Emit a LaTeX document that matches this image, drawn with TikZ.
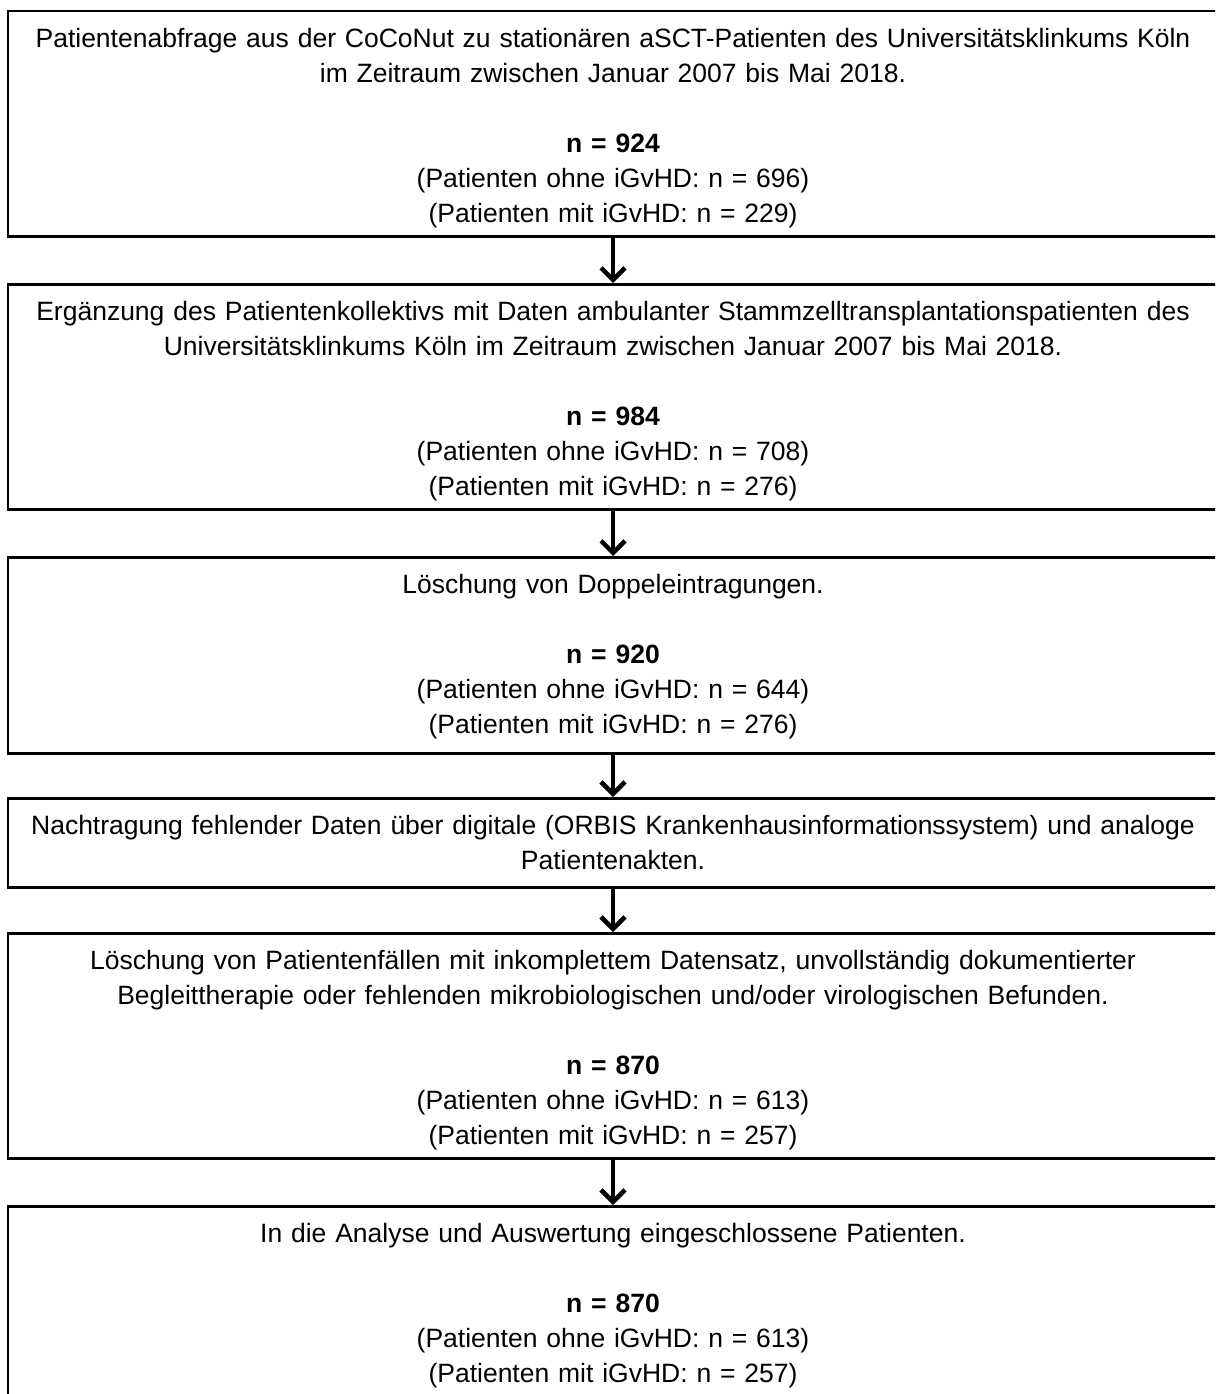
\documentclass[tikz,border=0pt]{standalone}
\usepackage{fontspec}
\setmainfont{Liberation Sans}
\usetikzlibrary{arrows.meta}
\begin{document}
\begin{tikzpicture}[x=1pt,y=-1pt,
  box/.style={draw=black, line width=2.5pt, anchor=north, text width=1210pt,
    inner xsep=0pt, inner ysep=0pt, align=center,
    font=\fontsize{26.5}{35}\selectfont},
  flow/.style={line width=4pt,
    -{Straight Barb[length=12pt,width=24pt,line width=4.5pt]}}]
\useasboundingbox (0,0) rectangle (1215,1394);
\clip (0,0) rectangle (1215,1394);
\newcommand\topgap{\rule{0pt}{36pt}}
\newcommand\botgap[1]{\rule[-#1pt]{0pt}{#1pt}}
\node[box] (b1) at (613,10) {\topgap Patientenabfrage aus der CoCoNut zu stationären aSCT-Patienten des Universitätsklinkums Köln\\
im Zeitraum zwischen Januar 2007 bis Mai 2018.\\
\mbox{}\\
\textbf{n = 924}\\
(Patienten ohne iGvHD: n = 696)\\
(Patienten mit iGvHD: n = 229)\botgap{14}};
\node[box] (b2) at (613,283) {\topgap Ergänzung des Patientenkollektivs mit Daten ambulanter Stammzelltransplantationspatienten des\\
Universitätsklinkums Köln im Zeitraum zwischen Januar 2007 bis Mai 2018.\\
\mbox{}\\
\textbf{n = 984}\\
(Patienten ohne iGvHD: n = 708)\\
(Patienten mit iGvHD: n = 276)\botgap{14}};
\node[box] (b3) at (613,556) {\topgap Löschung von Doppeleintragungen.\\
\mbox{}\\
\textbf{n = 920}\\
(Patienten ohne iGvHD: n = 644)\\
(Patienten mit iGvHD: n = 276)\botgap{20}};
\node[box] (b4) at (613,797) {\topgap Nachtragung fehlender Daten über digitale (ORBIS Krankenhausinformationssystem) und analoge\\
Patientenakten.\botgap{18}};
\node[box] (b5) at (613,932) {\topgap Löschung von Patientenfällen mit inkomplettem Datensatz, unvollständig dokumentierter\\
Begleittherapie oder fehlenden mikrobiologischen und/oder virologischen Befunden.\\
\mbox{}\\
\textbf{n = 870}\\
(Patienten ohne iGvHD: n = 613)\\
(Patienten mit iGvHD: n = 257)\botgap{14}};
\node[box] (b6) at (613,1205) {\topgap In die Analyse und Auswertung eingeschlossene Patienten.\\
\mbox{}\\
\textbf{n = 870}\\
(Patienten ohne iGvHD: n = 613)\\
(Patienten mit iGvHD: n = 257)\botgap{20}};
\draw[flow] (b1) -- (b2);
\draw[flow] (b2) -- (b3);
\draw[flow] (b3) -- (b4);
\draw[flow] (b4) -- (b5);
\draw[flow] (b5) -- (b6);
\end{tikzpicture}
\end{document}
